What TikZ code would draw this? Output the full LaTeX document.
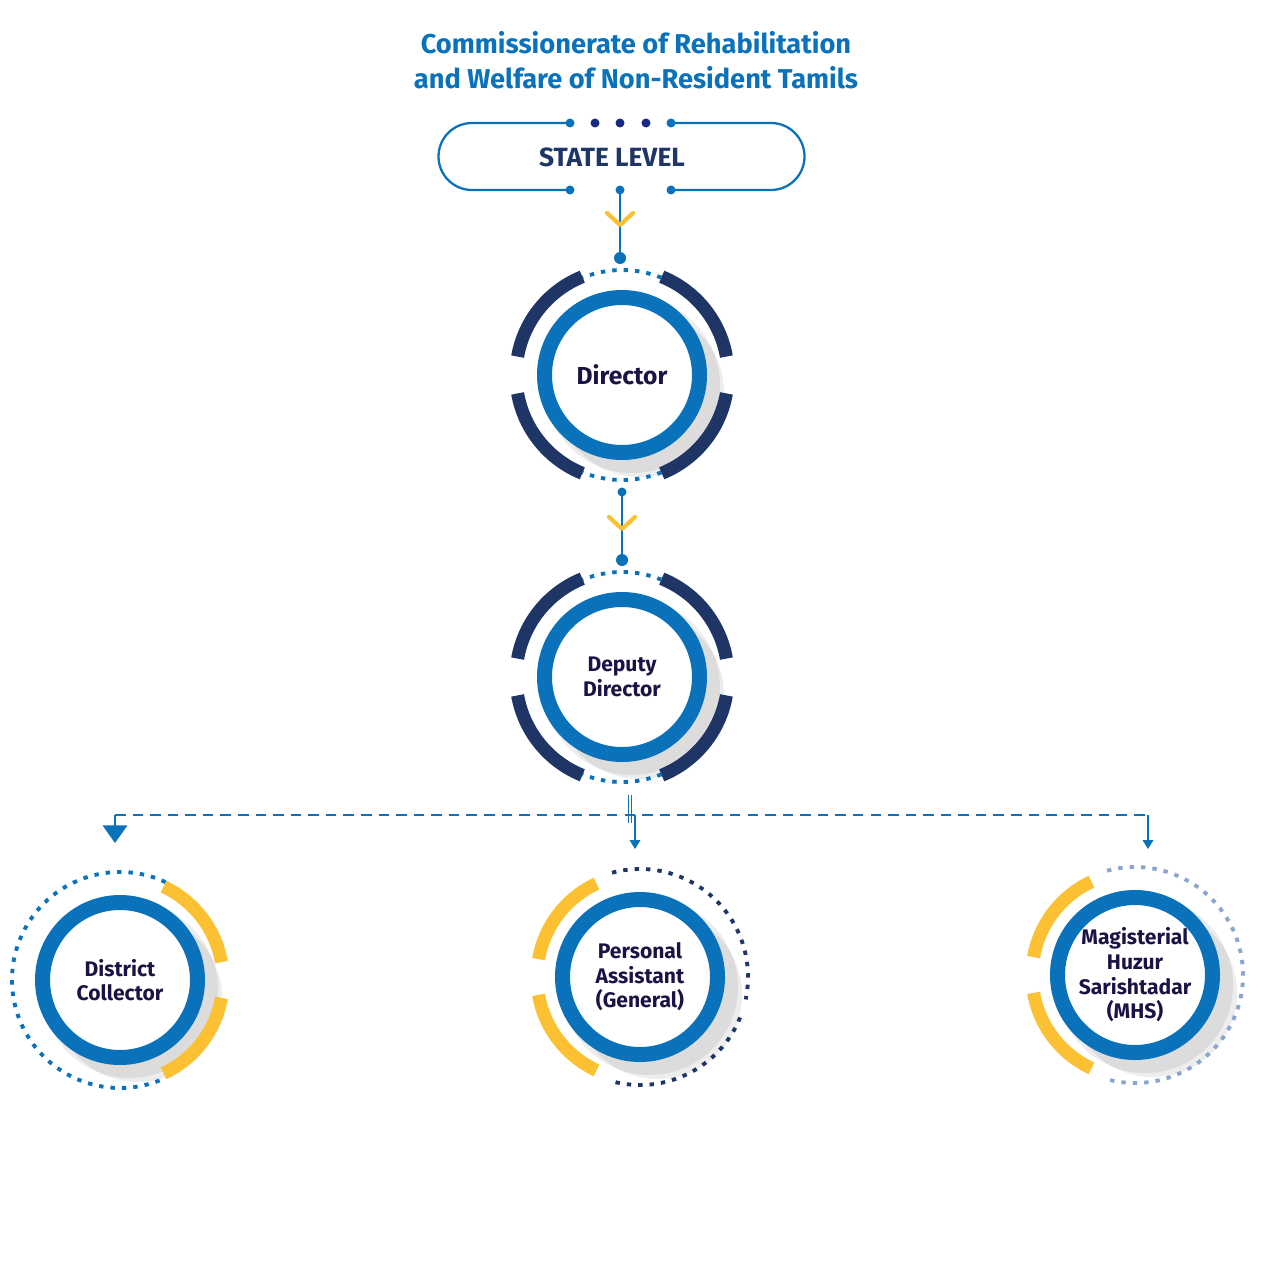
\documentclass[tikz,border=0pt]{standalone}
\usepackage{fontspec}
\setmainfont{Fira Sans}
\usetikzlibrary{arrows.meta,calc}
\definecolor{ablue}{HTML}{0A72BA}
\definecolor{anavy}{HTML}{1E3566}
\definecolor{aink}{HTML}{1A1446}
\definecolor{ayel}{HTML}{FBC132}
\definecolor{apale}{HTML}{8AA6CE}
\tikzset{
  ring/.style={circle,draw=ablue,line width=15*0.02cm,fill=white,minimum size=155*0.02cm,inner sep=0pt,
    align=center,text=aink,font=\bfseries\fontsize{12}{14}\selectfont},
  band/.style={line width=13*0.02cm},
  dots/.style={line width=2.2pt,dash pattern=on 2.5pt off 4pt},
  link/.style={ablue,line width=1.3pt},
  chev/.style={ayel,line width=2.4pt,line cap=round,line join=round},
  branch/.style={ablue,line width=1.2pt,dash pattern=on 6pt off 4pt}
}
\newcommand{\shadowat}[1]{\fill[black,opacity=0.07] ($(#1)+(10,-10)$) circle (88);
  \fill[black,opacity=0.07] ($(#1)+(18,-18)$) circle (84);}
\begin{document}
\begin{tikzpicture}[x=0.02cm,y=0.02cm]
\useasboundingbox (0,0) rectangle (1264,-1267);

% Title
\node[text=ablue,font=\bfseries\fontsize{15.5}{20}\selectfont,align=center] (title) at (636,-60)
  {Commissionerate of Rehabilitation\\and Welfare of Non-Resident Tamils};

% State level pill
\draw[ablue,line width=1.3pt] (570,-123) -- (472,-123) arc (90:270:33.5) -- (570,-190);
\draw[ablue,line width=1.3pt] (671,-123) -- (771,-123) arc (90:-90:33.5) -- (671,-190);
\foreach \x in {570,671} {\fill[ablue] (\x,-123) circle (4.5); \fill[ablue] (\x,-190) circle (4.5);}
\foreach \x in {595,620,646} \fill[anavy!80!blue] (\x,-123) circle (4.5);
\node[text=anavy,font=\bfseries\fontsize{15}{18}\selectfont] (state) at (612,-157) {STATE LEVEL};
\coordinate (s1) at (620,-190);
\coordinate (s2) at (620,-258);
\fill[ablue] (s1) circle (4.5);
\fill[ablue] (s2) circle (6);
\draw[link] (s1) -- (s2);
\draw[chev] (607,-213) -- (620,-225) -- (633,-213);

% Director
\shadowat{622,-375}
\draw[anavy,band] (622,-375) ++(10:106) arc (10:68:106);
\draw[anavy,band] (622,-375) ++(112:106) arc (112:170:106);
\draw[anavy,band] (622,-375) ++(-10:106) arc (-10:-68:106);
\draw[anavy,band] (622,-375) ++(-112:106) arc (-112:-170:106);
\draw[ablue,dots] (622,-375) ++(68:105) arc (68:112:105);
\draw[ablue,dots] (622,-375) ++(-68:105) arc (-68:-112:105);
\node[ring,font=\bfseries\fontsize{14}{16}\selectfont] (dir) at (622,-375) {Director};

\coordinate (d1) at (622,-492);
\coordinate (d2) at (622,-560);
\fill[ablue] (d1) circle (4.5);
\fill[ablue] (d2) circle (6);
\draw[link] (d1) -- (d2);
\draw[chev] (609,-517) -- (622,-529) -- (635,-517);

% Deputy Director
\shadowat{622,-677}
\draw[anavy,band] (622,-677) ++(10:106) arc (10:68:106);
\draw[anavy,band] (622,-677) ++(112:106) arc (112:170:106);
\draw[anavy,band] (622,-677) ++(-10:106) arc (-10:-68:106);
\draw[anavy,band] (622,-677) ++(-112:106) arc (-112:-170:106);
\draw[ablue,dots] (622,-677) ++(68:105) arc (68:112:105);
\draw[ablue,dots] (622,-677) ++(-68:105) arc (-68:-112:105);
\node[ring] (dep) at (622,-677) {Deputy\\Director};

% Branches
\coordinate (b0) at (630,-795);
\coordinate (b1) at (630,-815);
\coordinate (bl) at (115,-815);
\coordinate (br) at (1148,-815);
\draw[ablue,line width=0.6pt] ($(b0)+(-1.5,0)$) -- ($(b1)+(-1.5,-8)$);
\draw[ablue,line width=0.6pt] ($(b0)+(1.5,0)$) -- ($(b1)+(1.5,-8)$);
\draw[branch] (bl) -- (br);
\draw[ablue,line width=0.8pt,-{Triangle[width=14pt,length=10pt]}] (bl) -- (115,-843);
\draw[ablue,line width=0.6pt,-{Triangle[width=6pt,length=5pt]}] (635,-815) -- (635,-849);
\draw[ablue,line width=0.6pt,-{Triangle[width=6pt,length=5pt]}] (1148,-815) -- (1148,-849);

% District Collector
\shadowat{120,-980}
\draw[ayel,band] (120,-980) ++(10:103) arc (10:65:103);
\draw[ayel,band] (120,-980) ++(-10:103) arc (-10:-65:103);
\draw[ablue,dots] (120,-980) ++(65:108) arc (65:295:108);
\node[ring] (dc) at (120,-980) {District\\Collector};

% Personal Assistant
\shadowat{640,-977}
\draw[ayel,band] (640,-977) ++(115:103) arc (115:170:103);
\draw[ayel,band] (640,-977) ++(190:103) arc (190:245:103);
\draw[anavy,dots] (640,-977) ++(105:108) arc (105:-12:108);
\draw[anavy,dots] (640,-977) ++(-22:108) arc (-22:-105:108);
\node[ring] (pa) at (640,-977) {Personal\\Assistant\\(General)};

% Magisterial Huzur Sarishtadar
\shadowat{1135,-975}
\draw[ayel,band] (1135,-975) ++(115:103) arc (115:170:103);
\draw[ayel,band] (1135,-975) ++(190:103) arc (190:245:103);
\draw[apale,dots] (1135,-975) ++(105:108) arc (105:-105:108);
\node[ring] (mhs) at (1135,-975) {Magisterial\\Huzur\\Sarishtadar\\(MHS)};
\end{tikzpicture}
\end{document}
